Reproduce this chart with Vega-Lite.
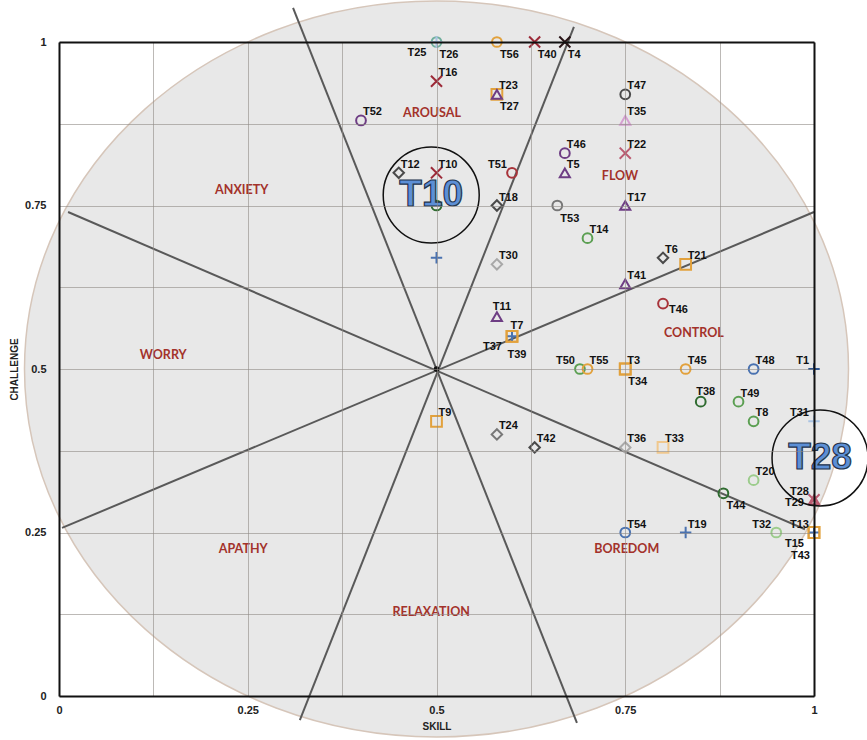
{
  "$schema": "https://vega.github.io/schema/vega-lite/v6.json",
  "width": 755,
  "height": 654,
  "autosize": {"type": "none"},
  "padding": {"left": 59, "top": 42, "right": 53, "bottom": 44},
  "background": "white",
  "config": {"view": {"stroke": null}, "font": "Liberation Sans"},
  "datasets": {
    "center": [{"x": 0.5, "y": 0.5}],
    "lines": [
      {"x": 0.012, "y": 0.740, "x2": 0.988, "y2": 0.255},
      {"x": 0.004, "y": 0.257, "x2": 1.0, "y2": 0.740},
      {"x": 0.682, "y": 1.023, "x2": 0.319, "y2": -0.037},
      {"x": 0.310, "y": 1.052, "x2": 0.686, "y2": -0.041}
    ],
    "zones": [
      {"name": "AROUSAL", "x": 0.494, "y": 0.891},
      {"name": "ANXIETY", "x": 0.242, "y": 0.774},
      {"name": "FLOW", "x": 0.743, "y": 0.795},
      {"name": "CONTROL", "x": 0.841, "y": 0.555},
      {"name": "WORRY", "x": 0.138, "y": 0.521},
      {"name": "APATHY", "x": 0.244, "y": 0.225},
      {"name": "BOREDOM", "x": 0.752, "y": 0.225},
      {"name": "RELAXATION", "x": 0.493, "y": 0.128}
    ],
    "notes": [
      {"label": "T10", "x": 0.493, "y": 0.766},
      {"label": "T28", "x": 1.008, "y": 0.364}
    ],
    "pts": [
      {"id": "T25", "x": 0.5, "y": 1.0, "mk": "circle", "col": "teal", "lp": "sw"},
      {"id": "T26", "x": 0.5, "y": 1.0, "mk": "plus", "col": "lightblue", "lp": "se"},
      {"id": "T56", "x": 0.58, "y": 1.0, "mk": "circle", "col": "orange", "lp": "se"},
      {"id": "T40", "x": 0.63, "y": 1.0, "mk": "x", "col": "darkred", "lp": "se"},
      {"id": "T4", "x": 0.67, "y": 1.0, "mk": "x", "col": "black", "lp": "se"},
      {"id": "T16", "x": 0.5, "y": 0.94, "mk": "x", "col": "darkred", "lp": "ne"},
      {"id": "T23", "x": 0.58, "y": 0.92, "mk": "square", "col": "orange", "lp": "ne"},
      {"id": "T27", "x": 0.58, "y": 0.92, "mk": "triangle", "col": "purple", "lp": "se"},
      {"id": "T52", "x": 0.40, "y": 0.88, "mk": "circle", "col": "purple", "lp": "ne"},
      {"id": "T47", "x": 0.75, "y": 0.92, "mk": "circle", "col": "darkgray", "lp": "ne"},
      {"id": "T35", "x": 0.75, "y": 0.88, "mk": "triangle", "col": "pink", "lp": "ne"},
      {"id": "T46", "x": 0.67, "y": 0.83, "mk": "circle", "col": "purple", "lp": "ne"},
      {"id": "T5", "x": 0.67, "y": 0.80, "mk": "triangle", "col": "purple", "lp": "ne"},
      {"id": "T22", "x": 0.75, "y": 0.83, "mk": "x", "col": "rose", "lp": "ne"},
      {"id": "T12", "x": 0.45, "y": 0.80, "mk": "diamond", "col": "darkgray", "lp": "ne"},
      {"id": "T10", "x": 0.5, "y": 0.80, "mk": "x", "col": "darkred", "lp": "ne"},
      {"id": "", "x": 0.5, "y": 0.75, "mk": "circle", "col": "darkgreen", "lp": "none"},
      {"id": "T51", "x": 0.60, "y": 0.80, "mk": "circle", "col": "red", "lp": "nw"},
      {"id": "T18", "x": 0.58, "y": 0.75, "mk": "diamond", "col": "darkgray", "lp": "ne"},
      {"id": "T53", "x": 0.66, "y": 0.75, "mk": "circle", "col": "gray", "lp": "se"},
      {"id": "T17", "x": 0.75, "y": 0.75, "mk": "triangle", "col": "purple", "lp": "ne"},
      {"id": "T14", "x": 0.70, "y": 0.70, "mk": "circle", "col": "green", "lp": "ne"},
      {"id": "T6", "x": 0.80, "y": 0.67, "mk": "diamond", "col": "darkgray", "lp": "ne"},
      {"id": "T21", "x": 0.83, "y": 0.66, "mk": "square", "col": "orange", "lp": "ne"},
      {"id": "T30", "x": 0.58, "y": 0.66, "mk": "diamond", "col": "lightgray", "lp": "ne"},
      {"id": "", "x": 0.5, "y": 0.67, "mk": "plus", "col": "blue", "lp": "none"},
      {"id": "T41", "x": 0.75, "y": 0.63, "mk": "triangle", "col": "purple", "lp": "ne"},
      {"id": "T46", "x": 0.80, "y": 0.60, "mk": "circle", "col": "red", "lp": "e"},
      {"id": "T11", "x": 0.58, "y": 0.58, "mk": "triangle", "col": "purple", "lp": "n"},
      {"id": "T7", "x": 0.60, "y": 0.55, "mk": "square", "col": "orange", "lp": "n"},
      {"id": "T37", "x": 0.60, "y": 0.55, "mk": "plus", "col": "blue", "lp": "sw"},
      {"id": "T39", "x": 0.60, "y": 0.55, "mk": "square", "col": "orange", "lp": "s"},
      {"id": "T50", "x": 0.69, "y": 0.50, "mk": "circle", "col": "green", "lp": "nw"},
      {"id": "T55", "x": 0.70, "y": 0.50, "mk": "circle", "col": "orange", "lp": "ne"},
      {"id": "T3", "x": 0.75, "y": 0.50, "mk": "square", "col": "orange", "lp": "ne"},
      {"id": "T34", "x": 0.75, "y": 0.50, "mk": "square", "col": "orange", "lp": "se"},
      {"id": "T45", "x": 0.83, "y": 0.50, "mk": "circle", "col": "orange", "lp": "ne"},
      {"id": "T48", "x": 0.92, "y": 0.50, "mk": "circle", "col": "blue", "lp": "ne"},
      {"id": "T1", "x": 1.0, "y": 0.50, "mk": "plus", "col": "navy", "lp": "nw"},
      {"id": "T38", "x": 0.85, "y": 0.45, "mk": "circle", "col": "darkgreen", "lp": "n"},
      {"id": "T49", "x": 0.90, "y": 0.45, "mk": "circle", "col": "green", "lp": "ne"},
      {"id": "T8", "x": 0.92, "y": 0.42, "mk": "circle", "col": "green", "lp": "ne"},
      {"id": "T31", "x": 1.0, "y": 0.42, "mk": "plus", "col": "lightblue", "lp": "nw"},
      {"id": "T9", "x": 0.5, "y": 0.42, "mk": "square", "col": "orange", "lp": "ne"},
      {"id": "T24", "x": 0.58, "y": 0.40, "mk": "diamond", "col": "gray", "lp": "ne"},
      {"id": "T42", "x": 0.63, "y": 0.38, "mk": "diamond", "col": "darkgray", "lp": "ne"},
      {"id": "T36", "x": 0.75, "y": 0.38, "mk": "diamond", "col": "lightgray", "lp": "ne"},
      {"id": "T33", "x": 0.80, "y": 0.38, "mk": "square", "col": "lightorange", "lp": "ne"},
      {"id": "T20", "x": 0.92, "y": 0.33, "mk": "circle", "col": "lightgreen", "lp": "ne"},
      {"id": "T44", "x": 0.88, "y": 0.31, "mk": "circle", "col": "darkgreen", "lp": "se"},
      {"id": "T28", "x": 1.0, "y": 0.30, "mk": "triangle", "col": "rose", "lp": "nw"},
      {"id": "T29", "x": 1.0, "y": 0.30, "mk": "x", "col": "rose", "lp": "w"},
      {"id": "T54", "x": 0.75, "y": 0.25, "mk": "circle", "col": "blue", "lp": "ne"},
      {"id": "T19", "x": 0.83, "y": 0.25, "mk": "plus", "col": "blue", "lp": "ne"},
      {"id": "T32", "x": 0.95, "y": 0.25, "mk": "circle", "col": "lightgreen", "lp": "nw"},
      {"id": "T13", "x": 1.0, "y": 0.25, "mk": "square", "col": "orange", "lp": "nw"},
      {"id": "T15", "x": 1.0, "y": 0.25, "mk": "plus", "col": "blue", "lp": "sw"},
      {"id": "T43", "x": 1.0, "y": 0.25, "mk": "square", "col": "orange", "lp": "sw2"}
    ]
  },
  "resolve": {"axis": {"x": "independent", "y": "independent"}},
  "layer": [
    {
      "data": {"name": "center"},
      "mark": {
        "type": "point",
        "shape": "M-1,0C-1,-0.493,-0.552,-0.893,0,-0.893C0.552,-0.893,1,-0.493,1,0C1,0.493,0.552,0.893,0,0.893C-0.552,0.893,-1,0.493,-1,0Z",
        "size": 678976,
        "filled": true,
        "fill": "#e8e8e8",
        "fillOpacity": 1,
        "opacity": 1,
        "stroke": "#d6c6ba",
        "strokeWidth": 1.5
      },
      "encoding": {
        "x": {
          "field": "x", "type": "quantitative",
          "scale": {"domain": [0, 1], "nice": false, "zero": false},
          "axis": {
            "orient": "bottom",
            "values": [0, 0.125, 0.25, 0.375, 0.5, 0.625, 0.75, 0.875, 1],
            "labelExpr": "(datum.value * 4) % 1 === 0 ? format(datum.value, '~g') : ''",
            "grid": true, "gridColor": "#8f8a85", "gridOpacity": 0.6, "gridWidth": 1,
            "domainColor": "#111111", "domainWidth": 2,
            "ticks": false, "tickSize": 0, "labelPadding": 8,
            "labelFont": "Liberation Sans", "labelFontSize": 11, "labelFontWeight": "bold", "labelColor": "#222222",
            "labelFlush": false, "labelOverlap": false, "labelBound": false,
            "title": "SKILL", "titleFont": "Liberation Sans", "titleFontSize": 10, "titleFontWeight": "bold", "titleColor": "#222222",
            "titleBaseline": "alphabetic", "titleY": 33,
            "zindex": 1
          }
        },
        "y": {
          "field": "y", "type": "quantitative",
          "scale": {"domain": [0, 1], "nice": false, "zero": false},
          "axis": {
            "orient": "left",
            "values": [0, 0.125, 0.25, 0.375, 0.5, 0.625, 0.75, 0.875, 1],
            "labelExpr": "(datum.value * 4) % 1 === 0 ? format(datum.value, '~g') : ''",
            "grid": true, "gridColor": "#8f8a85", "gridOpacity": 0.6, "gridWidth": 1,
            "domainColor": "#111111", "domainWidth": 2,
            "ticks": false, "tickSize": 0, "labelPadding": 13,
            "labelFont": "Liberation Sans", "labelFontSize": 11, "labelFontWeight": "bold", "labelColor": "#222222",
            "labelFlush": false, "labelOverlap": false, "labelBound": false,
            "title": "CHALLENGE", "titleFont": "Liberation Sans", "titleFontSize": 10, "titleFontWeight": "bold", "titleColor": "#222222",
            "titleX": -40, "titleY": 327, "titleAngle": 270, "titleBaseline": "bottom", "titleAlign": "center",
            "zindex": 1
          }
        }
      }
    },
    {
      "data": {"name": "lines"},
      "mark": {"type": "rule", "color": "#595959", "strokeWidth": 2},
      "encoding": {
        "x": {"field": "x", "type": "quantitative", "scale": {"domain": [0, 1], "nice": false, "zero": false}, "axis": null},
        "y": {"field": "y", "type": "quantitative", "scale": {"domain": [0, 1], "nice": false, "zero": false}, "axis": null},
        "x2": {"field": "x2"},
        "y2": {"field": "y2"}
      }
    },
    {
      "data": {"name": "center"},
      "mark": {"type": "point", "shape": "circle", "filled": true, "color": "#111111", "size": 30, "opacity": 1},
      "encoding": {
        "x": {
          "field": "x", "type": "quantitative",
          "scale": {"domain": [0, 1], "nice": false, "zero": false},
          "axis": {"orient": "top", "labels": false, "ticks": false, "grid": false, "title": null, "domainColor": "#111111", "domainWidth": 2, "zindex": 1}
        },
        "y": {
          "field": "y", "type": "quantitative",
          "scale": {"domain": [0, 1], "nice": false, "zero": false},
          "axis": {"orient": "right", "labels": false, "ticks": false, "grid": false, "title": null, "domainColor": "#111111", "domainWidth": 2, "zindex": 1}
        }
      }
    },
    {
      "data": {"name": "zones"},
      "mark": {"type": "text", "font": "Lato", "fontSize": 12.5, "fontWeight": "bold", "color": "#a3322b", "align": "center", "baseline": "middle"},
      "encoding": {
        "x": {"field": "x", "type": "quantitative", "scale": {"domain": [0, 1], "nice": false, "zero": false}, "axis": null},
        "y": {"field": "y", "type": "quantitative", "scale": {"domain": [0, 1], "nice": false, "zero": false}, "axis": null},
        "text": {"field": "name"}
      }
    },
    {
      "data": {"name": "pts"},
      "mark": {"type": "point", "filled": false, "strokeWidth": 2, "opacity": 1},
      "encoding": {
        "x": {"field": "x", "type": "quantitative", "scale": {"domain": [0, 1], "nice": false, "zero": false}, "axis": null},
        "y": {"field": "y", "type": "quantitative", "scale": {"domain": [0, 1], "nice": false, "zero": false}, "axis": null},
        "shape": {
          "field": "mk", "type": "nominal", "legend": null,
          "scale": {
            "domain": ["circle", "triangle", "diamond", "square", "x", "plus"],
            "range": ["circle", "triangle-up", "diamond", "square", "M-1,-1L1,1M-1,1L1,-1", "M-1,0L1,0M0,-1L0,1"]
          }
        },
        "size": {
          "field": "mk", "type": "nominal", "legend": null,
          "scale": {
            "domain": ["circle", "triangle", "diamond", "square", "x", "plus"],
            "range": [95, 130, 70, 85, 64, 110]
          }
        },
        "color": {
          "field": "col", "type": "nominal", "legend": null,
          "scale": {
            "domain": ["teal", "lightblue", "orange", "darkred", "black", "purple", "darkgray", "pink", "rose", "darkgreen", "red", "gray", "green", "lightgray", "blue", "navy", "lightorange", "lightgreen"],
            "range": ["#6fae9c", "#a9c3e3", "#e2a13c", "#9c2a38", "#2a1518", "#6e3d84", "#4a4a4a", "#d6a0d2", "#bb5a70", "#2f6b30", "#a8333a", "#777777", "#5b9f52", "#a8a8a8", "#4a72b0", "#2e5590", "#f0c88e", "#9ccc8c"]
          }
        }
      }
    },
    {
      "data": {"name": "pts"},
      "transform": [{"filter": "datum.lp === 'ne'"}],
      "mark": {"type": "text", "font": "Liberation Sans", "fontSize": 11, "fontWeight": "bold", "color": "#111111", "align": "left", "baseline": "alphabetic", "dx": 2, "dy": -5},
      "encoding": {
        "x": {"field": "x", "type": "quantitative", "scale": {"domain": [0, 1], "nice": false, "zero": false}, "axis": null},
        "y": {"field": "y", "type": "quantitative", "scale": {"domain": [0, 1], "nice": false, "zero": false}, "axis": null},
        "text": {"field": "id"}
      }
    },
    {
      "data": {"name": "pts"},
      "transform": [{"filter": "datum.lp === 'nw'"}],
      "mark": {"type": "text", "font": "Liberation Sans", "fontSize": 11, "fontWeight": "bold", "color": "#111111", "align": "right", "baseline": "alphabetic", "dx": -5, "dy": -5},
      "encoding": {
        "x": {"field": "x", "type": "quantitative", "scale": {"domain": [0, 1], "nice": false, "zero": false}, "axis": null},
        "y": {"field": "y", "type": "quantitative", "scale": {"domain": [0, 1], "nice": false, "zero": false}, "axis": null},
        "text": {"field": "id"}
      }
    },
    {
      "data": {"name": "pts"},
      "transform": [{"filter": "datum.lp === 'se'"}],
      "mark": {"type": "text", "font": "Liberation Sans", "fontSize": 11, "fontWeight": "bold", "color": "#111111", "align": "left", "baseline": "alphabetic", "dx": 3, "dy": 16},
      "encoding": {
        "x": {"field": "x", "type": "quantitative", "scale": {"domain": [0, 1], "nice": false, "zero": false}, "axis": null},
        "y": {"field": "y", "type": "quantitative", "scale": {"domain": [0, 1], "nice": false, "zero": false}, "axis": null},
        "text": {"field": "id"}
      }
    },
    {
      "data": {"name": "pts"},
      "transform": [{"filter": "datum.lp === 'sw'"}],
      "mark": {"type": "text", "font": "Liberation Sans", "fontSize": 11, "fontWeight": "bold", "color": "#111111", "align": "right", "baseline": "alphabetic", "dx": -10, "dy": 14},
      "encoding": {
        "x": {"field": "x", "type": "quantitative", "scale": {"domain": [0, 1], "nice": false, "zero": false}, "axis": null},
        "y": {"field": "y", "type": "quantitative", "scale": {"domain": [0, 1], "nice": false, "zero": false}, "axis": null},
        "text": {"field": "id"}
      }
    },
    {
      "data": {"name": "pts"},
      "transform": [{"filter": "datum.lp === 'sw2'"}],
      "mark": {"type": "text", "font": "Liberation Sans", "fontSize": 11, "fontWeight": "bold", "color": "#111111", "align": "right", "baseline": "alphabetic", "dx": -4, "dy": 26},
      "encoding": {
        "x": {"field": "x", "type": "quantitative", "scale": {"domain": [0, 1], "nice": false, "zero": false}, "axis": null},
        "y": {"field": "y", "type": "quantitative", "scale": {"domain": [0, 1], "nice": false, "zero": false}, "axis": null},
        "text": {"field": "id"}
      }
    },
    {
      "data": {"name": "pts"},
      "transform": [{"filter": "datum.lp === 'n'"}],
      "mark": {"type": "text", "font": "Liberation Sans", "fontSize": 11, "fontWeight": "bold", "color": "#111111", "align": "center", "baseline": "alphabetic", "dx": 5, "dy": -7},
      "encoding": {
        "x": {"field": "x", "type": "quantitative", "scale": {"domain": [0, 1], "nice": false, "zero": false}, "axis": null},
        "y": {"field": "y", "type": "quantitative", "scale": {"domain": [0, 1], "nice": false, "zero": false}, "axis": null},
        "text": {"field": "id"}
      }
    },
    {
      "data": {"name": "pts"},
      "transform": [{"filter": "datum.lp === 's'"}],
      "mark": {"type": "text", "font": "Liberation Sans", "fontSize": 11, "fontWeight": "bold", "color": "#111111", "align": "center", "baseline": "alphabetic", "dx": 5, "dy": 22},
      "encoding": {
        "x": {"field": "x", "type": "quantitative", "scale": {"domain": [0, 1], "nice": false, "zero": false}, "axis": null},
        "y": {"field": "y", "type": "quantitative", "scale": {"domain": [0, 1], "nice": false, "zero": false}, "axis": null},
        "text": {"field": "id"}
      }
    },
    {
      "data": {"name": "pts"},
      "transform": [{"filter": "datum.lp === 'e'"}],
      "mark": {"type": "text", "font": "Liberation Sans", "fontSize": 11, "fontWeight": "bold", "color": "#111111", "align": "left", "baseline": "alphabetic", "dx": 6, "dy": 9},
      "encoding": {
        "x": {"field": "x", "type": "quantitative", "scale": {"domain": [0, 1], "nice": false, "zero": false}, "axis": null},
        "y": {"field": "y", "type": "quantitative", "scale": {"domain": [0, 1], "nice": false, "zero": false}, "axis": null},
        "text": {"field": "id"}
      }
    },
    {
      "data": {"name": "pts"},
      "transform": [{"filter": "datum.lp === 'w'"}],
      "mark": {"type": "text", "font": "Liberation Sans", "fontSize": 11, "fontWeight": "bold", "color": "#111111", "align": "right", "baseline": "alphabetic", "dx": -10, "dy": 6},
      "encoding": {
        "x": {"field": "x", "type": "quantitative", "scale": {"domain": [0, 1], "nice": false, "zero": false}, "axis": null},
        "y": {"field": "y", "type": "quantitative", "scale": {"domain": [0, 1], "nice": false, "zero": false}, "axis": null},
        "text": {"field": "id"}
      }
    },
    {
      "data": {"name": "notes"},
      "mark": {"type": "point", "shape": "circle", "filled": false, "stroke": "#111111", "strokeWidth": 1.5, "size": 9216, "opacity": 1},
      "encoding": {
        "x": {"field": "x", "type": "quantitative", "scale": {"domain": [0, 1], "nice": false, "zero": false}, "axis": null},
        "y": {"field": "y", "type": "quantitative", "scale": {"domain": [0, 1], "nice": false, "zero": false}, "axis": null}
      }
    },
    {
      "data": {"name": "notes"},
      "mark": {"type": "text", "font": "Liberation Sans", "fontSize": 37, "fontWeight": "bold", "fill": "#5c8fd6", "stroke": "#24344c", "strokeWidth": 1.2, "align": "center", "baseline": "middle"},
      "encoding": {
        "x": {"field": "x", "type": "quantitative", "scale": {"domain": [0, 1], "nice": false, "zero": false}, "axis": null},
        "y": {"field": "y", "type": "quantitative", "scale": {"domain": [0, 1], "nice": false, "zero": false}, "axis": null},
        "text": {"field": "label"}
      }
    }
  ]
}
